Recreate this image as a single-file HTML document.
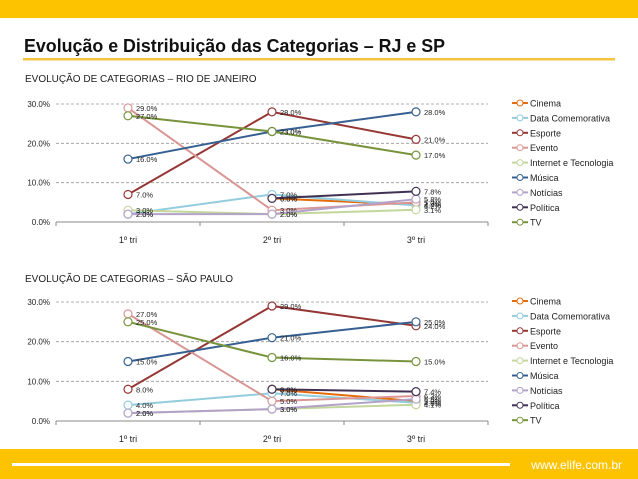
<!DOCTYPE html>
<html><head><meta charset="utf-8">
<style>
body{margin:0;width:638px;height:479px;overflow:hidden;background:#fff;font-family:"Liberation Sans",sans-serif;}
svg{display:block}
</style></head>
<body>
<svg id="s" width="638" height="479" xmlns="http://www.w3.org/2000/svg">
<rect x="0" y="0" width="638" height="18" fill="#fdc300"/>
<text x="24" y="52" font-size="18" font-weight="bold" fill="#111" textLength="421" lengthAdjust="spacingAndGlyphs">Evolução e Distribuição das Categorias – RJ e SP</text>
<rect x="23" y="58" width="592" height="2.5" fill="#f5c342"/>
<text x="25" y="82" font-size="10" fill="#222">EVOLUÇÃO DE CATEGORIAS – RIO DE JANEIRO</text>
<text x="25" y="282" font-size="10" fill="#222">EVOLUÇÃO DE CATEGORIAS – SÃO PAULO</text>
<rect x="0" y="449" width="638" height="30" fill="#fdc300"/>
<rect x="12" y="463" width="498" height="3" fill="#fff"/>
<text x="622" y="469" font-size="12" fill="#fff" text-anchor="end">www.elife.com.br</text>
<g id="c1"></g><g id="c2"></g>
</svg>
<script>
const categories=["1º tri","2º tri","3º tri"];
const seriesNames=["Cinema","Data Comemorativa","Esporte","Evento","Internet e Tecnologia","Música","Notícias","Política","TV"];
const colors=["#e46c0a","#93cddd","#953735","#d99694","#c3d69b","#376092","#b3a2c7","#403152","#77933c"];
const yTicks=[0,10,20,30];
const rjCinema=[null,6,4.4];
const rjData=[2,7,4.2];
const rjEsporte=[7,28,21];
const rjEvento=[29,3,5];
const rjInternet=[3,2,3.1];
const rjMusica=[16,23,28];
const rjNoticias=[2,2,5.8];
const rjPolitica=[null,6,7.8];
const rjTV=[27,23,17];
const spCinema=[null,8,5];
const spData=[4,7,4.6];
const spEsporte=[8,29,24];
const spEvento=[27,5,6.3];
const spInternet=[2,3,4.1];
const spMusica=[15,21,25];
const spNoticias=[2,3,5.5];
const spPolitica=[null,8,7.4];
const spTV=[25,16,15];
const NS="http://www.w3.org/2000/svg";
function mk(p,t,a){const e=document.createElementNS(NS,t);for(const k in a)e.setAttribute(k,a[k]);p.appendChild(e);return e;}
function chart(gid,top,bottom,data,prefix){
  const g=document.getElementById(gid);
  const x0=56,x1=488,cw=(x1-x0)/categories.length;
  const xs=i=>x0+cw*(i+0.5);
  const ys=v=>bottom-(v/30)*(bottom-top);
  yTicks.forEach(t=>{
    if(t>0){const l=mk(g,"line",{x1:x0,x2:x1,y1:ys(t),y2:ys(t),stroke:"#999","stroke-dasharray":"3,2","stroke-width":0.8});
    
    }
    const tx=mk(g,"text",{x:50,y:ys(t)+3,"font-size":8,"text-anchor":"end",fill:"#222"});tx.textContent=t.toFixed(1)+"%";
    
    
  });
  const ax=mk(g,"line",{x1:x0,x2:x1,y1:bottom,y2:bottom,stroke:"#888","stroke-width":1});
  
  
  for(let i=0;i<=categories.length;i++){const tk=mk(g,"line",{x1:x0+cw*i,x2:x0+cw*i,y1:bottom,y2:bottom+4,stroke:"#888"});
    
    }
  categories.forEach((c,i)=>{const t=mk(g,"text",{x:xs(i),y:bottom+21,"font-size":9,"text-anchor":"middle",fill:"#222"});t.textContent=c;
    
    });
  data.forEach((vals,si)=>{
    const col=colors[si];
    let pts=[];vals.forEach((v,i)=>{if(v!==null)pts.push(xs(i)+","+ys(v));});
    const pl=mk(g,"polyline",{points:pts.join(" "),fill:"none",stroke:col,"stroke-width":2});
    
    
    vals.forEach((v,i)=>{if(v===null)return;
      const c=mk(g,"circle",{cx:xs(i),cy:ys(v),r:4,fill:"#fff",stroke:col,"stroke-width":1.2});
      
      
      const t=mk(g,"text",{x:xs(i)+8,y:ys(v)+3,"font-size":7.5,fill:"#222"});t.textContent=v.toFixed(1)+"%";
      
      
    });
  });
  seriesNames.forEach((n,i)=>{
    const y=top-1+i*14.9;
    const l=mk(g,"line",{x1:512,x2:528,y1:y,y2:y,stroke:colors[i],"stroke-width":2});
    
    
    const c=mk(g,"circle",{cx:520,cy:y,r:3,fill:"#fff",stroke:colors[i]});
    
    
    const t=mk(g,"text",{x:530,y:y+3.5,"font-size":9,fill:"#222"});t.textContent=n;
    
    
  });
}
chart("c1",104,222,[rjCinema,rjData,rjEsporte,rjEvento,rjInternet,rjMusica,rjNoticias,rjPolitica,rjTV],"rj");
chart("c2",302,421,[spCinema,spData,spEsporte,spEvento,spInternet,spMusica,spNoticias,spPolitica,spTV],"sp");
</script>
</body></html>
